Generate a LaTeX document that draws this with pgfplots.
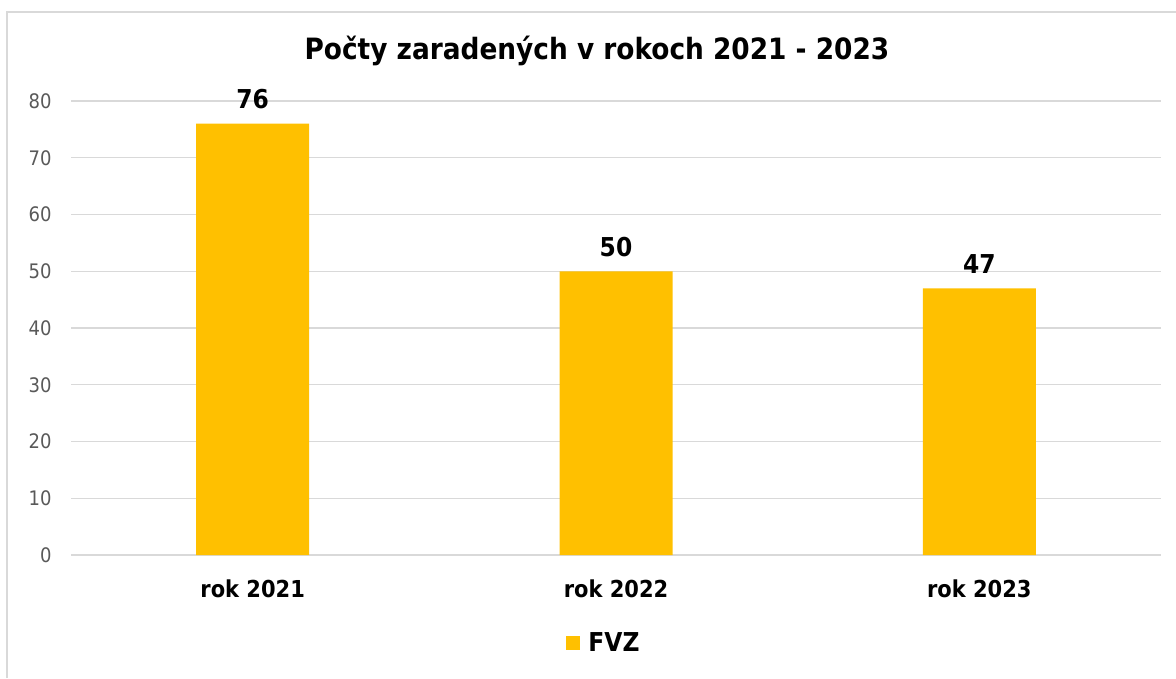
\documentclass[border=0pt]{standalone}
\usepackage{fontspec}
\setmainfont{DejaVu Sans Condensed}
\usepackage{pgfplots}
\pgfplotsset{compat=1.18}
\definecolor{barc}{HTML}{FFC000}
\definecolor{gridc}{HTML}{D9D9D9}
\definecolor{tickc}{HTML}{595959}
\begin{document}
\begin{tikzpicture}[x=0.75pt,y=0.75pt]
\useasboundingbox (0,0) rectangle (1176,678);
\draw[gridc,line width=1.5pt] (7,0) -- (7,666) -- (1176,666);
\node[font=\fontsize{22}{25}\selectfont\bfseries] at (597,627) {Počty zaradených v rokoch 2021 - 2023};
\begin{axis}[at={(53.25pt,92.25pt)},anchor=south west,
  scale only axis,width=817.5pt,height=340.5pt,
  xmin=-0.5,xmax=2.5,ymin=0,ymax=80,
  ytick={0,10,...,80},xtick=data,
  xticklabels={rok 2021,rok 2022,rok 2023},
  axis line style={draw=none},
  major tick length=0pt,
  ymajorgrids,grid style={gridc,line width=0.9pt},
  /pgf/number format/assume math mode=true,
  yticklabel style={font=\fontsize{15}{18}\selectfont,text=tickc,xshift=-11pt},
  xticklabel style={font=\fontsize{17.5}{20}\selectfont\bfseries,yshift=-15pt},
  ybar,bar width=84.75pt,
  nodes near coords,
  every node near coord/.append style={font=\fontsize{19.5}{22}\selectfont\bfseries,yshift=7.5pt},
  legend style={at={(0.489,-0.194)},anchor=center,draw=none,
    font=\fontsize{19.5}{22}\selectfont\bfseries},
  legend image code/.code={\fill[barc] (0,-5.5pt) rectangle (11pt,5.5pt);},
  ]
\addplot[fill=barc,draw=none] coordinates {(0,76) (1,50) (2,47)};
\addlegendentry{\hspace{4pt}FVZ}
\end{axis}
\end{tikzpicture}
\end{document}
